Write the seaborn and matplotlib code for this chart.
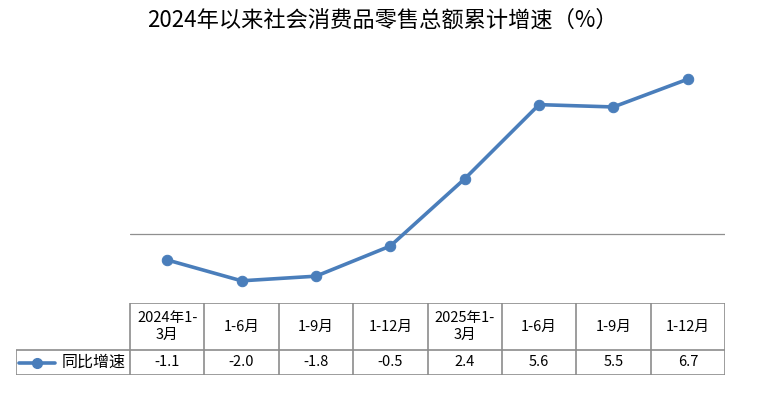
import matplotlib
matplotlib.use("Agg")
import matplotlib.pyplot as plt
import seaborn as sns
import pandas as pd

# ==========================
# 数据
# ==========================
periods = ["2024年1-\n3月", "1-6月", "1-9月", "1-12月",
           "2025年1-\n3月", "1-6月", "1-9月", "1-12月"]
growth = [-1.1, -2.0, -1.8, -0.5, 2.4, 5.6, 5.5, 6.7]
series_name = "同比增速"
title = "2024年以来社会消费品零售总额累计增速（%）"

df = pd.DataFrame({"idx": range(len(growth)), "val": growth})

sns.set_theme(style="white")
plt.rcParams['font.family'] = ['Noto Sans CJK SC', 'DejaVu Sans']

W, H = 765, 395
fig = plt.figure(figsize=(W / 100, H / 100), dpi=100)

line_col = "#4A7EBB"
grid_col = "#8C8C8C"

# ==========================
# 折线图
# ==========================
ax = fig.add_axes([130 / W, 1 - 304 / H, 595 / W, 255 / H])
ax.axhline(0, color="#8F8F8F", lw=0.9, zorder=1)
sns.lineplot(data=df, x="idx", y="val", ax=ax, color=line_col, lw=2.6,
             marker="o", markersize=7.5, markeredgecolor=line_col, zorder=3)
ax.set_xlim(-0.5, len(growth) - 0.5)
ax.set_ylim(-3, 8)
ax.axis("off")

fig.text(0.5, 1 - 20 / H, title, ha="center", va="center", fontsize=16, color="#000000")

# ==========================
# 数据表
# ==========================
tx0, tx1 = 16, 725
ty0, ty1 = 303, 375
tab = fig.add_axes([tx0 / W, 1 - ty1 / H, (tx1 - tx0) / W, (ty1 - ty0) / H])
n = len(growth)
col_px = (tx1 - 130) / n
leg_w = (130 - tx0) / col_px  # legend column width in units of data columns
tab.set_xlim(-leg_w, n)
tab.set_ylim(0, 72)
tab.axis("off")
row_split = 72 - 47  # header row height 47px, data row 25px

kw = dict(color=grid_col, lw=1.2, solid_capstyle="butt")
# horizontal lines
tab.plot([0, n], [72, 72], **kw)
tab.plot([-leg_w, n], [row_split, row_split], **kw)
tab.plot([-leg_w, n], [0, 0], **kw)
# vertical lines
for i in range(n + 1):
    tab.plot([i, i], [0, 72], **kw)
tab.plot([-leg_w, -leg_w], [0, row_split], **kw)

for i, (p, v) in enumerate(zip(periods, growth)):
    tab.text(i + 0.5, row_split + 47 / 2, p, ha="center", va="center",
             fontsize=10.5, linespacing=1.3, color="#000000")
    tab.text(i + 0.5, row_split / 2, f"{v:.1f}", ha="center", va="center",
             fontsize=10.5, color="#000000")

# legend key
k0 = -leg_w + 3 / col_px
k1 = -leg_w + 39 / col_px
tab.plot([k0, k1], [row_split / 2, row_split / 2], color=line_col, lw=2.6,
         solid_capstyle="round")
tab.plot([(k0 + k1) / 2], [row_split / 2], marker="o", color=line_col, markersize=7)
tab.text(-leg_w + 46 / col_px, row_split / 2, series_name, ha="left", va="center",
         fontsize=11.5, color="#000000")

fig.savefig("out.png", dpi=100)
